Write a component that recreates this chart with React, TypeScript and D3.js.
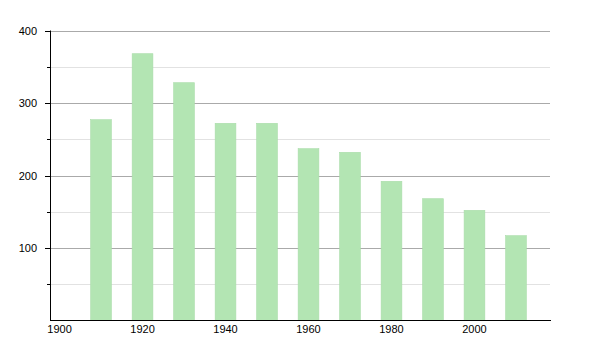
import React from "react";
import * as d3 from "d3";

const years = [1910, 1920, 1930, 1940, 1950, 1960, 1970, 1980, 1990, 2000, 2010];
const population = [277, 368, 328, 272, 272, 237, 232, 192, 168, 152, 117];
const yMajorTicks = [100, 200, 300, 400];
const yMinorTicks = [50, 150, 250, 350];
const xTicks = [1900, 1920, 1940, 1960, 1980, 2000];

const W = 600;
const H = 350;
const left = 50;
const right = 550;
const top = 30.5;
const bottom = 320.5;

export default function App() {
  const x = d3.scaleLinear().domain([1897.7, 2018.2]).range([left, right]);
  const y = d3.scaleLinear().domain([0, 400]).range([bottom, top]);
  const barW = x(1905) - x(1900);
  const font = "'Liberation Sans', Arial, Helvetica, sans-serif";
  return (
    <svg width={W} height={H} style={{ position: "absolute", left: 0, top: 0 }}>
      <rect width={W} height={H} fill="#fff" />
      {yMinorTicks.map((t) => (
        <g key={"mn" + t}>
          <line x1={left} x2={right} y1={Math.round(y(t)) + 0.5} y2={Math.round(y(t)) + 0.5} stroke="#e2e2e2" />
          <line x1={left - 3} x2={left} y1={Math.round(y(t)) + 0.5} y2={Math.round(y(t)) + 0.5} stroke="#000" />
        </g>
      ))}
      {yMajorTicks.map((t) => (
        <g key={"mj" + t}>
          <line x1={left} x2={right} y1={Math.round(y(t)) + 0.5} y2={Math.round(y(t)) + 0.5} stroke="#aaaaaa" />
          <line x1={left - 5} x2={left} y1={Math.round(y(t)) + 0.5} y2={Math.round(y(t)) + 0.5} stroke="#000" />
          <text x={37} y={y(t) + 4} textAnchor="end" fontFamily={font} fontSize={11} fill="#000">
            {t}
          </text>
        </g>
      ))}
      {years.map((yr, i) => (
        <rect
          key={yr}
          x={x(yr) - barW / 2}
          y={y(population[i])}
          width={barW}
          height={y(0) - y(population[i])}
          fill="#b3e5b3"
          stroke="#aadcaa"
          strokeWidth={0.6}
        />
      ))}
      <line x1={left + 0.5} x2={left + 0.5} y1={top} y2={bottom + 0.5} stroke="#000" />
      <line x1={left} x2={right + 1} y1={bottom} y2={bottom} stroke="#000" strokeWidth={1.2} />
      {xTicks.map((t) => (
        <text key={t} x={x(t)} y={333} textAnchor="middle" fontFamily={font} fontSize={11} fill="#000">
          {t}
        </text>
      ))}
    </svg>
  );
}
